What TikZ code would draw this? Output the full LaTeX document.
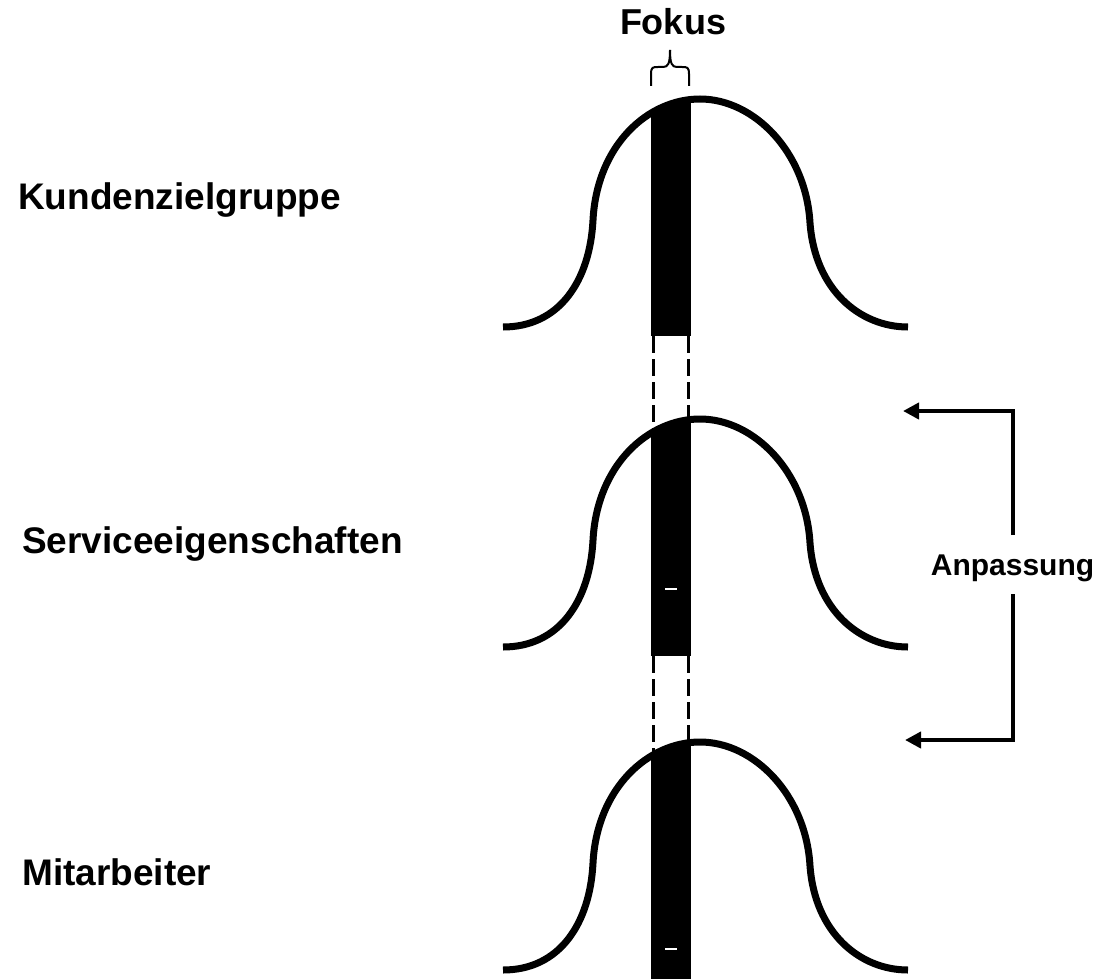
\documentclass[tikz,border=0pt]{standalone}
\usepackage{fontspec}
\setmainfont{Liberation Sans}
\usetikzlibrary{arrows.meta}
\begin{document}
\begin{tikzpicture}[x=1pt,y=-1pt,
  label/.style={inner sep=0pt,anchor=base west,font=\bfseries\fontsize{37}{44}\selectfont},
  bellline/.style={line width=7pt},
  guide/.style={line width=3pt,dash pattern=on 17pt off 6pt},
  adjust/.style={line width=4pt,-{Triangle[length=16pt,width=16pt]}},
  bracket/.style={line width=2pt,line join=round}]
\useasboundingbox[fill=white] (0,0) rectangle (1110,979);

% dashed guides between the focus bars
\foreach \dy in {0,320}{
  \draw[guide] (653,336+\dy) -- (653,445+\dy);
  \draw[guide] (688,336+\dy) -- (688,430+\dy);
}

% three bell curves, each with its focus bar
\foreach \dy in {0,320,643}{
  \begin{scope}[shift={(0,\dy)}]
    \begin{scope}
      \clip (503,327) .. controls (560,327) and (590,280) .. (593,220)
        .. controls (597,145) and (648,99) .. (700,99)
        .. controls (754,99) and (806,152) .. (810,223)
        .. controls (815,290) and (860,327) .. (908,327)
        -- (908,700) -- (503,700) -- cycle;
      \fill (651,85) rectangle (691,336);
    \end{scope}
    \draw[bellline] (503,327) .. controls (560,327) and (590,280) .. (593,220)
      .. controls (597,145) and (648,99) .. (700,99)
      .. controls (754,99) and (806,152) .. (810,223)
      .. controls (815,290) and (860,327) .. (908,327);
  \end{scope}
}
\draw[white,line width=1.2pt] (665,589) -- (677,589);
\draw[white,line width=1.2pt] (665,949) -- (677,949);

% brace marking the focus
\draw[bracket] (651,86) -- (651,74) .. controls (651,67) and (653,67) .. (658,67)
  -- (663,67) .. controls (668,67) and (670,64) .. (670,50);
\draw[bracket] (689,86) -- (689,74) .. controls (689,67) and (687,67) .. (682,67)
  -- (677,67) .. controls (672,67) and (670,64) .. (670,50);

% labels
\node[label] (kunden) at (18,209) {Kundenzielgruppe};
\node[label] (service) at (22,553) {Serviceeigenschaften};
\node[label] (mitarb) at (22,885) {Mitarbeiter};
\node[inner sep=0pt,anchor=base,font=\bfseries\fontsize{36}{43}\selectfont] (fokus) at (673,35) {Fokus};
\node[inner sep=0pt,anchor=base,font=\bfseries\fontsize{30}{36}\selectfont] (anp) at (1012.5,575) {Anpassung};

% adjustment bracket
\coordinate (aTop) at (1013,535);
\coordinate (aBot) at (1013,594);
\coordinate (tipTop) at (903,411);
\coordinate (tipBot) at (905,740);
\draw[adjust] (aTop) |- (tipTop);
\draw[adjust] (aBot) |- (tipBot);
\end{tikzpicture}
\end{document}
